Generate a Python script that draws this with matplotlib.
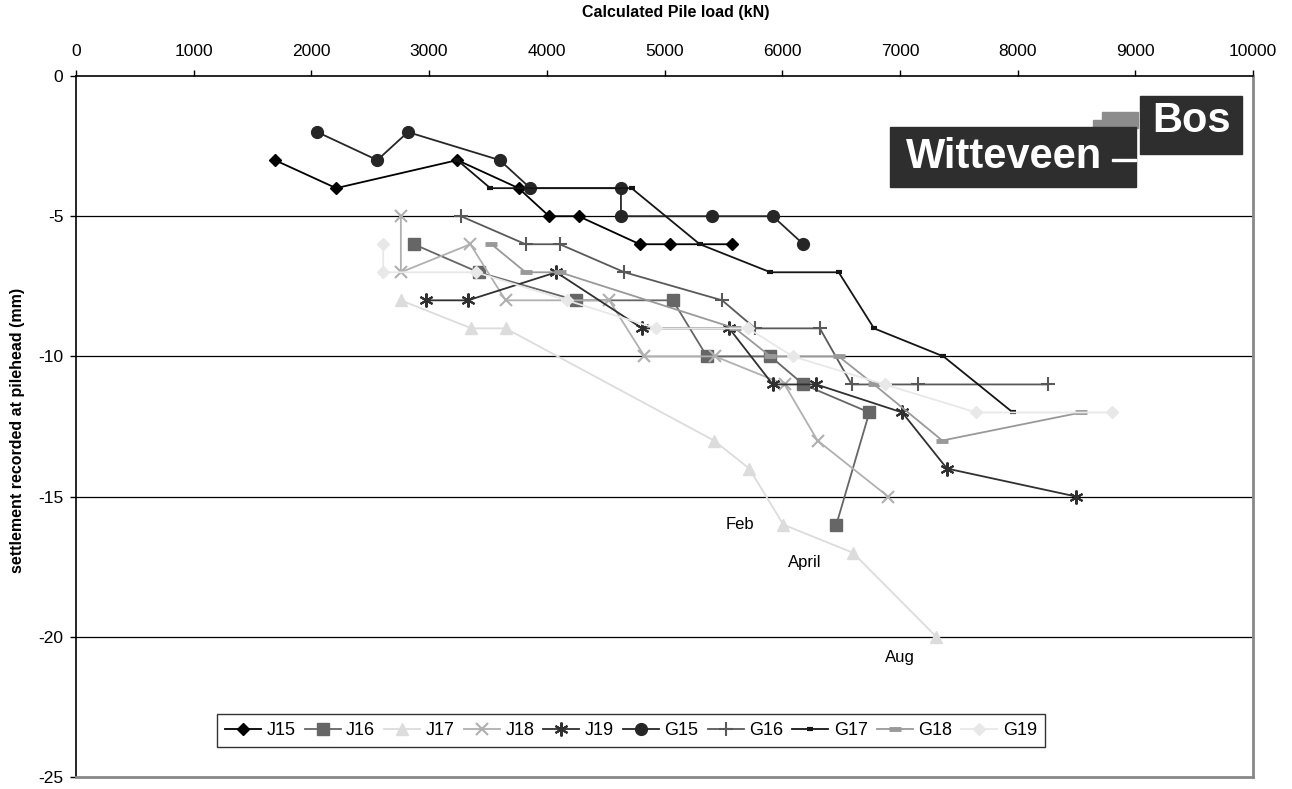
import matplotlib.pyplot as plt
from matplotlib.patches import Rectangle

plt.rcParams['font.family'] = ['Liberation Sans', 'DejaVu Sans']
plt.rcParams['axes.unicode_minus'] = False

# ---------------------
# data
# ---------------------
j15_x = [1690, 2210, 3240, 3760, 4020, 4270, 4790, 5050, 5570]
j15_y = [-3, -4, -3, -4, -5, -5, -6, -6, -6]

j16_x = [2870, 3420, 4250, 5070, 5360, 5900, 6180, 6740, 6460]
j16_y = [-6, -7, -8, -8, -10, -10, -11, -12, -16]

j17_x = [2760, 3360, 3650, 5420, 5720, 6010, 6600, 7310]
j17_y = [-8, -9, -9, -13, -14, -16, -17, -20]

j18_x = [2760, 2760, 3350, 3650, 4530, 4830, 5430, 6020, 6300, 6900]
j18_y = [-5, -7, -6, -8, -8, -10, -10, -11, -13, -15]

j19_x = [2970, 3330, 4080, 4810, 5550, 5920, 6290, 7020, 7400, 8500]
j19_y = [-8, -8, -7, -9, -9, -11, -11, -12, -14, -15]

g15_x = [2050, 2560, 2820, 3600, 3860, 4630, 4630, 5400, 5920, 6180]
g15_y = [-2, -3, -2, -3, -4, -4, -5, -5, -5, -6]

g16_x = [3270, 3820, 4110, 4660, 5490, 5770, 6320, 6590, 7150, 8260]
g16_y = [-5, -6, -6, -7, -8, -9, -9, -11, -11, -11]

g17_x = [3240, 3520, 4720, 5300, 5900, 6480, 6780, 7370, 7960]
g17_y = [-3, -4, -4, -6, -7, -7, -9, -10, -12]

g18_x = [3530, 3820, 4110, 5600, 5900, 6480, 6780, 7360, 8540]
g18_y = [-6, -7, -7, -9, -10, -10, -11, -13, -12]

g19_x = [2610, 2610, 3400, 4170, 4930, 5710, 6090, 6870, 7650, 8800]
g19_y = [-6, -7, -7, -8, -9, -9, -10, -11, -12, -12]

notes = ['Feb', 'April', 'Aug']
notes_x = [5640, 6190, 7000]
notes_y = [-16.0, -17.35, -20.75]

# ---------------------
# figure
# ---------------------
fig = plt.figure(figsize=(12.92, 7.89), dpi=100)
ax = fig.add_axes([76/1292, 1 - 777/789, 1177/1292, 701/789])
ax.set_xlim(0, 10000)
ax.set_ylim(-25, 0)
ax.set_xticks(range(0, 10001, 1000))
ax.set_yticks(range(-25, 1, 5))
ax.xaxis.tick_top()
ax.tick_params(axis='both', labelsize=12.5, length=4, width=1, color='black', pad=8)
ax.tick_params(axis='y', pad=5)

for v in [-5, -10, -15, -20]:
    ax.axhline(v, color='black', lw=0.9, zorder=0)

ax.spines['top'].set_color('black')
ax.spines['left'].set_color('black')
ax.spines['bottom'].set_color('#888888')
ax.spines['right'].set_color('#888888')
ax.spines['bottom'].set_linewidth(2)
ax.spines['right'].set_linewidth(2)
ax.spines['top'].set_linewidth(1.2)
ax.spines['left'].set_linewidth(1.2)

lw = 1.3
ax.plot(j15_x, j15_y, color='black', lw=lw, marker='D', ms=6.5, label='J15')
ax.plot(j16_x, j16_y, color='#666666', lw=lw, marker='s', ms=8, label='J16')
ax.plot(j17_x, j17_y, color='#dcdcdc', lw=lw, marker='^', ms=8, label='J17')
ax.plot(j18_x, j18_y, color='#b0b0b0', lw=lw, marker='x', ms=9, mew=1.5, label='J18')
ax.plot(j19_x, j19_y, color='#303030', lw=lw, marker=(6, 2, 0), ms=10, mew=1.5, label='J19')
ax.plot(g15_x, g15_y, color='#262626', lw=lw, marker='o', ms=8.5, label='G15')
ax.plot(g16_x, g16_y, color='#595959', lw=lw, marker='+', ms=10, mew=1.5, label='G16')
ax.plot(g17_x, g17_y, color='#151515', lw=lw, marker='_', ms=5, mew=3, label='G17')
ax.plot(g18_x, g18_y, color='#999999', lw=lw, marker='_', ms=8, mew=3.5, label='G18')
ax.plot(g19_x, g19_y, color='#e8e8e8', lw=lw, marker='D', ms=6.5, label='G19')

for t, x, y in zip(notes, notes_x, notes_y):
    ax.text(x, y, t, fontsize=12, ha='center', va='center')

leg = ax.legend(loc='center', bbox_to_anchor=(0.4715, 0.066), ncol=10, fontsize=13,
                frameon=True, fancybox=False, edgecolor='black', handlelength=2.0,
                handletextpad=0.3, columnspacing=0.5, borderpad=0.45)
leg.get_frame().set_linewidth(1.0)

# axis titles
fig.text(676/1292, 1 - 12/789, 'Calculated Pile load (kN)', ha='center', va='center',
         fontsize=11.5, fontweight='bold')
fig.text(18/1292, 1 - 430/789, 'settlement recorded at pilehead (mm)', ha='center',
         va='center', rotation=90, fontsize=11.5, fontweight='bold')

# logo (figure pixel coords)
def fig_rect(x0, y0, x1, y1, color):
    fig.patches.append(Rectangle((x0/1292, 1 - y1/789), (x1 - x0)/1292, (y1 - y0)/789,
                                 transform=fig.transFigure, color=color, zorder=5))

fig_rect(1093, 120, 1138, 128, '#8c8c8c')
fig_rect(1102, 112, 1138, 121, '#8c8c8c')
fig_rect(890, 127, 1136, 187, '#2e2e2e')
fig_rect(1140, 96, 1242, 154, '#2e2e2e')
fig_rect(1112, 159, 1136, 161, 'white')
fig.text(1004/1292, 1 - 157/789, 'Witteveen', color='white', fontsize=30,
         fontweight='bold', ha='center', va='center', zorder=6)
fig.text(1192/1292, 1 - 121/789, 'Bos', color='white', fontsize=30,
         fontweight='bold', ha='center', va='center', zorder=6)

fig.savefig('out.png', dpi=100)
